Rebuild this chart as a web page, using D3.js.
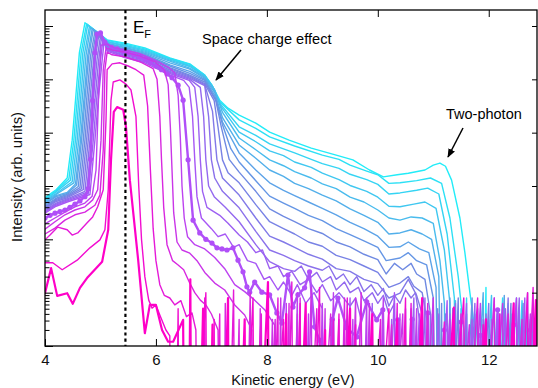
<!DOCTYPE html>
<html><head><meta charset="utf-8">
<script src="https://cdn.jsdelivr.net/npm/d3@7"></script>
<style>html,body{margin:0;padding:0;background:#fff}svg{display:block}</style>
</head><body>
<svg id="chart" width="538" height="388"></svg>
<script>
// Each series: [kinetic energy (eV), log10 intensity]; -8 marks the empty noise floor (below the axis)
const s0=[[4.00,0.99],[4.11,1.46],[4.22,0.94],[4.40,0.99],[4.50,0.79],[4.63,1.09],[4.77,1.29],[5.03,1.58],[5.14,2.18],[5.19,3.49],[5.24,4.39],[5.30,4.48],[5.41,4.43],[5.46,4.11],[5.53,3.11],[5.68,1.61],[5.80,0.24],[5.89,0.77],[6.00,0.77],[6.11,0.30],[6.22,0.08],[6.31,0.08],[6.49,0.49],[6.55,-8],[6.62,1.25],[6.66,-8],[6.85,0.7],[6.88,-8],[7.02,0.4],[7.06,-8],[7.3,0.9],[7.33,-8],[7.6,0.5],[7.64,-8],[8.02,1.2],[8.06,-8],[8.35,0.6],[8.38,-8],[8.7,0.8],[8.74,-8],[9.05,0.3],[9.09,-8],[9.5,0.7],[9.53,-8],[9.9,0.6],[9.94,-8],[10.35,0.5],[10.39,-8],[10.8,0.9],[10.83,-8],[11.37,0.72],[11.41,-8],[11.95,0.5],[11.99,-8],[12.45,0.8],[12.49,-8],[12.85,0.86],[12.9,-8]];
const s1=[[4.00,1.56],[4.14,1.56],[4.31,1.43],[4.58,1.61],[4.81,1.84],[4.99,1.99],[5.08,2.18],[5.14,2.93],[5.19,4.61],[5.23,4.95],[5.35,4.99],[5.46,4.91],[5.55,4.80],[5.64,4.3],[5.69,3.0],[5.74,2.0],[5.80,1.3],[5.87,0.86],[5.93,0.71],[6.0,0.77],[6.07,0.58],[6.18,0.30],[6.25,0.19],[6.3,-8],[6.4,0.7],[6.45,-8],[6.9,1.0],[6.95,-8],[7.05,0.5],[7.08,-8],[7.3,0.6],[7.34,-8],[7.75,0.9],[7.8,-8],[8.3,0.5],[8.34,-8],[8.6,0.8],[8.63,-8],[8.95,1.1],[9.0,-8],[9.3,0.6],[9.33,-8],[9.6,0.4],[9.64,-8],[10.2,0.7],[10.25,-8],[10.5,0.9],[10.53,-8],[10.8,0.5],[10.84,-8],[11.55,0.9],[11.6,-8],[11.9,0.4],[11.93,-8],[12.2,0.6],[12.25,-8],[12.7,1.0],[12.75,-8]];
const s2=[[4.00,1.99],[4.09,2.08],[4.23,2.23],[4.40,2.18],[4.49,2.08],[4.59,2.12],[4.76,2.31],[4.86,2.42],[4.95,2.61],[5.05,2.93],[5.10,4.24],[5.12,5.18],[5.21,5.29],[5.35,5.31],[5.50,5.25],[5.64,5.18],[5.78,5.08],[5.85,4.5],[5.90,3.3],[5.95,2.2],[6.0,1.6],[6.07,1.15],[6.15,0.95],[6.25,0.9],[6.34,0.77],[6.45,0.85],[6.55,0.55],[6.65,0.62],[6.72,0.30],[6.8,-8],[6.88,0.9],[6.93,-8],[7.15,0.6],[7.18,-8],[7.4,1.05],[7.45,-8],[7.9,0.6],[7.95,-8],[8.2,0.9],[8.23,-8],[8.45,1.2],[8.5,-8],[8.9,0.7],[8.95,-8],[9.2,0.5],[9.23,-8],[9.45,0.9],[9.5,-8],[10.05,0.5],[10.1,-8],[10.35,0.8],[10.38,-8],[10.6,0.8],[10.65,-8],[11.2,0.45],[11.25,-8],[11.8,0.9],[11.85,-8],[12.35,0.6],[12.4,-8],[12.8,1.1],[12.88,-8]];
const s3=[[4.00,2.10],[4.18,2.21],[4.36,2.36],[4.54,2.46],[4.72,2.51],[4.90,2.64],[4.99,2.83],[5.05,3.68],[5.08,5.18],[5.12,5.51],[5.21,5.46],[5.44,5.42],[5.71,5.33],[5.95,5.2],[6.02,5.0],[6.07,4.3],[6.10,3.5],[6.14,2.6],[6.2,1.9],[6.3,1.6],[6.40,1.52],[6.50,1.43],[6.60,1.2],[6.70,1.0],[6.80,0.86],[6.9,0.77],[7.0,0.6],[7.12,0.30],[7.2,-8],[7.25,0.8],[7.3,-8],[7.5,0.5],[7.53,-8],[7.7,1.0],[7.75,-8],[8.15,0.5],[8.2,-8],[8.4,0.8],[8.43,-8],[8.6,0.9],[8.65,-8],[9.15,0.6],[9.2,-8],[9.4,0.9],[9.43,-8],[9.7,1.0],[9.75,-8],[10.25,0.4],[10.3,-8],[10.6,0.7],[10.63,-8],[10.9,0.8],[10.95,-8],[11.5,0.6],[11.55,-8],[12.1,0.9],[12.15,-8],[12.6,0.5],[12.65,-8]];
const s4=[[4.00,2.19],[4.18,2.33],[4.36,2.46],[4.54,2.55],[4.72,2.61],[4.86,2.74],[4.95,2.93],[5.01,3.86],[5.05,5.18],[5.10,5.59],[5.21,5.55],[5.44,5.51],[5.71,5.44],[5.98,5.33],[6.15,5.18],[6.22,4.9],[6.26,4.1],[6.29,3.3],[6.32,2.5],[6.38,1.95],[6.47,1.8],[6.61,1.74],[6.74,1.6],[6.88,1.38],[7.06,1.18],[7.24,1.05],[7.42,0.77],[7.60,0.58],[7.73,0.30],[7.8,-8],[7.88,0.7],[7.92,-8],[8.1,0.5],[8.13,-8],[8.25,0.9],[8.3,-8],[8.55,0.6],[8.58,-8],[8.8,1.1],[8.85,-8],[9.05,0.7],[9.08,-8],[9.3,0.5],[9.35,-8],[9.6,0.9],[9.63,-8],[9.85,0.8],[9.9,-8],[10.45,0.6],[10.5,-8],[11.0,0.9],[11.05,-8],[11.65,0.4],[11.7,-8],[12.25,0.8],[12.3,-8],[12.75,0.6],[12.8,-8]];
const s5=[[4.00,2.29],[4.18,2.40],[4.36,2.51],[4.54,2.61],[4.72,2.68],[4.85,2.81],[4.92,3.30],[4.97,4.80],[5.01,5.64],[5.10,5.66],[5.26,5.59],[5.44,5.55],[5.71,5.48],[5.98,5.36],[6.22,5.23],[6.34,5.12],[6.40,4.7],[6.44,3.9],[6.47,3.0],[6.51,2.4],[6.57,2.05],[6.70,1.9],[6.88,1.82],[7.06,1.66],[7.24,1.45],[7.42,1.15],[7.60,1.02],[7.78,0.86],[7.96,0.68],[8.14,0.39],[8.2,-8],[8.35,0.8],[8.4,-8],[8.55,1.0],[8.58,-8],[8.75,0.6],[8.8,-8],[9.0,0.8],[9.03,-8],[9.2,1.0],[9.25,-8],[9.55,0.5],[9.6,-8],[9.8,0.9],[9.83,-8],[10.1,0.9],[10.15,-8],[10.4,0.6],[10.43,-8],[10.7,0.7],[10.75,-8],[11.3,0.5],[11.35,-8],[11.85,0.8],[11.9,-8],[12.5,0.9],[12.55,-8]];
const s6=[[4.00,2.40],[4.09,2.45],[4.18,2.49],[4.27,2.52],[4.36,2.55],[4.45,2.6],[4.54,2.66],[4.63,2.72],[4.72,2.8],[4.78,2.95],[4.82,3.5],[4.86,4.6],[4.90,5.5],[4.94,5.85],[5.0,5.87],[5.08,5.70],[5.2,5.6],[5.3,5.57],[5.4,5.53],[5.5,5.5],[5.6,5.46],[5.7,5.42],[5.8,5.37],[5.9,5.31],[6.0,5.25],[6.1,5.18],[6.2,5.10],[6.29,5.03],[6.40,4.89],[6.49,4.61],[6.58,3.49],[6.67,2.36],[6.79,2.12],[6.9,2.0],[7.01,1.93],[7.10,1.84],[7.19,1.82],[7.28,1.80],[7.39,1.84],[7.48,1.61],[7.57,1.39],[7.64,1.11],[7.69,1.01],[7.78,1.20],[7.91,1.01],[8.05,0.96],[8.18,0.62],[8.27,0.43],[8.38,1.33],[8.47,0.73],[8.56,0.96],[8.68,1.09],[8.77,1.39],[8.86,0.36],[8.95,0.11],[9.05,-8],[9.18,0.5],[9.28,0.9],[9.44,0.34],[9.62,0.17],[9.80,0.83],[9.98,0.49],[10.09,0.68],[10.2,-8],[10.36,0.49],[10.5,-8],[10.62,0.5],[10.75,-8],[10.9,0.62],[11.0,-8],[11.2,0.3],[11.35,-8],[11.5,0.45],[11.7,-8],[11.85,0.2],[12.0,-8],[12.16,0.68],[12.3,-8],[12.45,0.4],[12.6,-8],[12.75,0.3],[12.87,-8]];
const s7=[[4.00,2.49],[4.20,2.62],[4.40,2.70],[4.81,2.84],[4.90,3.86],[4.96,4.61],[5.03,5.36],[5.07,5.74],[5.12,5.53],[5.44,5.41],[5.80,5.31],[6.25,5.085],[6.5,4.98],[6.6,4.85],[6.66,4.3],[6.70,3.49],[6.74,2.8],[6.82,2.4],[7.0,2.2],[7.12,2.05],[7.25,2.1],[7.4,1.85],[7.5,1.9],[7.65,1.6],[7.8,1.55],[7.95,1.25],[8.05,1.3],[8.2,1.05],[8.3,1.2],[8.45,0.95],[8.55,1.15],[8.7,0.8],[8.85,1.0],[9.0,0.7],[9.1,-8],[9.2,0.7],[9.28,-8],[9.5,0.9],[9.56,-8],[9.9,0.5],[9.95,-8],[10.3,1.0],[10.35,-8],[10.75,0.6],[10.8,-8],[11.25,0.85],[11.3,-8],[11.7,0.5],[11.75,-8],[12.3,0.7],[12.35,-8],[12.65,0.9],[12.7,-8]];
const s8=[[4.00,2.51],[4.20,2.64],[4.40,2.72],[4.78,2.86],[4.87,3.86],[4.93,4.61],[5.0,5.37],[5.05,5.77],[5.12,5.55],[5.44,5.43],[5.80,5.33],[6.25,5.11],[6.6,4.98],[6.7,4.85],[6.76,4.3],[6.80,3.49],[6.84,2.9],[6.92,2.6],[7.15,2.45],[7.3,2.3],[7.5,2.08],[7.65,1.95],[7.8,1.75],[7.92,1.8],[8.05,1.45],[8.2,1.5],[8.3,1.3],[8.45,1.4],[8.6,1.15],[8.75,1.25],[8.9,1.0],[9.0,1.15],[9.15,0.85],[9.3,1.0],[9.5,0.75],[9.6,0.9],[9.7,0.5],[9.8,-8],[9.9,0.8],[9.95,-8],[10.25,0.5],[10.3,-8],[10.65,0.9],[10.7,-8],[11.1,0.6],[11.15,-8],[11.6,0.8],[11.65,-8],[12.05,0.5],[12.1,-8],[12.55,0.9],[12.6,-8],[12.85,0.6],[12.9,-8]];
const s9=[[4.00,2.53],[4.20,2.66],[4.40,2.74],[4.75,2.88],[4.84,3.86],[4.90,4.61],[4.97,5.38],[5.02,5.79],[5.12,5.56],[5.44,5.45],[5.80,5.35],[6.25,5.13],[6.61,5.0],[6.8,4.85],[6.86,4.3],[6.90,3.49],[6.95,3.0],[7.05,2.8],[7.25,2.6],[7.5,2.33],[7.8,1.9],[8.05,1.58],[8.3,1.45],[8.5,1.4],[8.62,1.5],[8.75,1.25],[8.9,1.38],[9.0,1.2],[9.15,1.3],[9.25,1.05],[9.4,1.2],[9.5,1.0],[9.65,1.1],[9.75,0.85],[9.9,1.0],[10.0,0.8],[10.1,0.95],[10.2,0.6],[10.3,0.8],[10.4,-8],[10.5,0.7],[10.55,-8],[10.85,0.9],[10.9,-8],[11.3,0.6],[11.35,-8],[11.75,0.8],[11.8,-8],[12.2,0.6],[12.25,-8],[12.7,1.0],[12.75,-8]];
const s10=[[4.00,2.55],[4.20,2.68],[4.40,2.76],[4.72,2.90],[4.81,3.86],[4.87,4.61],[4.94,5.39],[5.0,5.81],[5.12,5.58],[5.44,5.47],[5.80,5.37],[6.25,5.15],[6.61,5.02],[6.88,4.88],[6.95,4.3],[7.0,3.49],[7.06,3.15],[7.2,2.9],[7.5,2.59],[7.8,2.15],[8.05,1.80],[8.3,1.7],[8.5,1.6],[8.75,1.5],[9.0,1.42],[9.12,1.5],[9.25,1.25],[9.38,1.35],[9.5,1.15],[9.62,1.3],[9.75,1.02],[9.88,1.15],[10.0,0.95],[10.1,1.08],[10.2,0.75],[10.3,0.95],[10.4,0.8],[10.5,1.05],[10.6,0.9],[10.68,1.0],[10.75,0.5],[10.8,-8],[10.95,0.6],[11.0,-8],[11.4,0.8],[11.45,-8],[11.9,0.5],[11.95,-8],[12.35,0.9],[12.4,-8],[12.8,0.6],[12.85,-8]];
const s11=[[4.00,2.57],[4.20,2.71],[4.40,2.78],[4.69,2.93],[4.78,3.86],[4.84,4.61],[4.91,5.40],[4.97,5.84],[5.12,5.59],[5.44,5.49],[5.80,5.39],[6.25,5.175],[6.61,5.04],[6.88,4.9],[7.02,4.4],[7.1,3.49],[7.2,3.15],[7.5,2.83],[7.8,2.4],[8.05,2.06],[8.3,1.95],[8.5,1.85],[8.75,1.72],[9.0,1.63],[9.25,1.45],[9.5,1.40],[9.75,1.25],[10.0,1.17],[10.2,0.9],[10.4,0.99],[10.55,1.25],[10.7,0.95],[10.8,0.6],[10.88,-8],[11.0,0.9],[11.05,-8],[11.5,0.5],[11.55,-8],[12.0,0.8],[12.05,-8],[12.45,0.6],[12.5,-8],[12.88,0.9]];
const s12=[[4.00,2.59],[4.20,2.73],[4.40,2.80],[4.66,2.95],[4.75,3.86],[4.81,4.61],[4.88,5.41],[4.95,5.86],[5.12,5.61],[5.44,5.51],[5.80,5.41],[6.25,5.2],[6.61,5.06],[6.88,4.92],[7.05,4.6],[7.12,4.1],[7.2,3.49],[7.3,3.25],[7.5,3.06],[7.8,2.65],[8.05,2.33],[8.3,2.2],[8.5,2.1],[8.75,1.95],[9.0,1.87],[9.25,1.7],[9.5,1.62],[9.75,1.5],[10.0,1.38],[10.2,1.1],[10.4,1.18],[10.55,1.3],[10.65,1.12],[10.8,1.0],[10.9,0.4],[10.98,-8],[11.08,0.7],[11.13,-8],[11.45,0.9],[11.5,-8],[11.95,0.6],[12.0,-8],[12.4,0.8],[12.45,-8],[12.75,0.5],[12.8,-8]];
const s13=[[4.00,2.61],[4.20,2.75],[4.40,2.82],[4.63,2.97],[4.72,3.86],[4.78,4.61],[4.85,5.42],[4.92,5.88],[5.12,5.62],[5.44,5.53],[5.80,5.43],[6.25,5.22],[6.61,5.08],[6.88,4.95],[7.08,4.6],[7.18,4.1],[7.32,3.5],[7.5,3.26],[7.8,2.9],[8.05,2.57],[8.3,2.43],[8.5,2.33],[8.75,2.2],[9.0,2.11],[9.25,1.95],[9.5,1.86],[9.75,1.72],[10.0,1.62],[10.15,1.35],[10.3,1.55],[10.45,1.43],[10.6,1.55],[10.7,1.35],[10.85,1.25],[10.95,0.6],[11.05,-8],[11.15,0.8],[11.2,-8],[11.6,0.6],[11.65,-8],[12.1,0.9],[12.15,-8],[12.55,0.7],[12.6,-8]];
const s14=[[4.00,2.63],[4.20,2.77],[4.40,2.84],[4.60,2.99],[4.69,3.86],[4.75,4.61],[4.82,5.43],[4.90,5.90],[5.04,5.77],[5.12,5.64],[5.44,5.55],[5.80,5.45],[6.25,5.25],[6.61,5.11],[6.88,4.98],[7.08,4.62],[7.2,4.15],[7.35,3.7],[7.5,3.45],[7.8,3.1],[8.05,2.81],[8.3,2.68],[8.5,2.58],[8.75,2.45],[9.0,2.35],[9.25,2.2],[9.5,2.09],[9.75,1.97],[10.0,1.85],[10.15,1.6],[10.4,1.65],[10.55,1.75],[10.7,1.6],[10.88,1.52],[11.0,0.9],[11.12,-8],[11.22,0.6],[11.27,-8],[11.7,0.9],[11.75,-8],[12.15,0.5],[12.2,-8],[12.62,0.8],[12.67,-8]];
const s15=[[4.00,2.66],[4.20,2.80],[4.40,2.86],[4.57,3.02],[4.66,3.86],[4.72,4.61],[4.79,5.44],[4.87,5.93],[5.02,5.80],[5.12,5.65],[5.44,5.57],[5.80,5.47],[6.25,5.27],[6.61,5.15],[6.88,5.0],[7.06,4.7],[7.2,4.2],[7.5,3.62],[7.8,3.3],[8.05,3.06],[8.3,2.92],[8.5,2.82],[8.75,2.7],[9.0,2.58],[9.25,2.46],[9.5,2.32],[9.75,2.2],[10.0,2.06],[10.2,1.85],[10.4,1.86],[10.55,1.95],[10.75,1.82],[10.92,1.75],[11.05,1.1],[11.18,-8],[11.3,0.9],[11.35,-8],[11.8,0.7],[11.85,-8],[12.28,0.95],[12.33,-8],[12.7,0.6],[12.75,-8]];
const s16=[[4.00,2.68],[4.20,2.82],[4.40,2.88],[4.55,3.04],[4.64,3.86],[4.70,4.61],[4.77,5.45],[4.85,5.95],[5.0,5.83],[5.12,5.67],[5.44,5.59],[5.80,5.49],[6.25,5.31],[6.61,5.19],[6.88,5.02],[7.06,4.75],[7.2,4.28],[7.5,3.77],[7.8,3.52],[8.05,3.30],[8.3,3.18],[8.5,3.05],[8.75,2.95],[9.0,2.83],[9.25,2.72],[9.5,2.57],[9.75,2.45],[10.0,2.32],[10.2,2.1],[10.4,2.12],[10.6,2.18],[10.8,2.1],[10.97,2.0],[11.1,1.3],[11.24,-8],[11.35,0.7],[11.4,-8],[11.9,1.0],[11.95,-8],[12.4,0.6],[12.45,-8],[12.8,0.8],[12.85,-8]];
const s17=[[4.00,2.70],[4.20,2.84],[4.52,3.06],[4.61,3.86],[4.67,4.61],[4.74,5.46],[4.82,5.97],[4.97,5.85],[5.12,5.68],[5.44,5.60],[5.80,5.51],[6.25,5.34],[6.61,5.21],[6.88,5.04],[7.06,4.8],[7.2,4.38],[7.5,3.90],[7.8,3.68],[8.05,3.49],[8.3,3.38],[8.5,3.27],[8.8,3.15],[9.0,3.04],[9.25,2.95],[9.5,2.79],[9.75,2.7],[10.0,2.55],[10.2,2.4],[10.4,2.36],[10.6,2.42],[10.8,2.4],[11.0,2.3],[11.12,1.6],[11.2,0.8],[11.28,-8],[11.4,0.85],[11.45,-8],[11.95,0.6],[12.0,-8],[12.5,0.9],[12.55,-8],[12.85,0.7]];
const s18=[[4.00,2.72],[4.20,2.86],[4.49,3.08],[4.58,3.86],[4.64,4.61],[4.71,5.47],[4.80,5.99],[4.95,5.87],[5.12,5.70],[5.44,5.62],[5.80,5.53],[6.25,5.36],[6.61,5.24],[6.88,5.06],[7.03,4.85],[7.18,4.48],[7.5,4.01],[7.8,3.83],[8.05,3.66],[8.3,3.57],[8.5,3.45],[8.8,3.35],[9.0,3.24],[9.3,3.12],[9.5,3.01],[9.8,2.9],[10.0,2.79],[10.2,2.62],[10.4,2.61],[10.65,2.66],[10.85,2.7],[11.05,2.58],[11.2,1.8],[11.3,0.8],[11.36,-8],[11.5,0.7],[11.55,-8],[12.05,0.95],[12.1,-8],[12.55,0.6],[12.6,-8]];
const s19=[[4.00,2.74],[4.20,2.89],[4.46,3.11],[4.55,3.86],[4.61,4.61],[4.68,5.48],[4.77,6.02],[4.92,5.90],[5.12,5.71],[5.44,5.64],[5.80,5.55],[6.25,5.38],[6.61,5.26],[6.88,5.07],[7.02,4.87],[7.16,4.54],[7.5,4.11],[7.8,3.95],[8.05,3.79],[8.5,3.62],[8.8,3.5],[9.0,3.42],[9.3,3.33],[9.5,3.22],[9.8,3.12],[10.0,3.03],[10.2,2.85],[10.4,2.87],[10.7,2.92],[10.9,2.96],[11.1,2.85],[11.25,2.1],[11.38,0.9],[11.45,-8],[11.6,0.9],[11.65,-8],[12.15,0.6],[12.2,-8],[12.6,0.85],[12.65,-8]];
const s20=[[4.00,2.76],[4.20,2.91],[4.43,3.13],[4.52,3.86],[4.58,4.61],[4.65,5.49],[4.75,6.04],[4.90,5.92],[5.12,5.73],[5.44,5.66],[5.80,5.57],[6.25,5.39],[6.61,5.28],[6.88,5.08],[7.01,4.88],[7.15,4.58],[7.5,4.24],[7.8,4.08],[8.05,3.92],[8.5,3.75],[9.0,3.58],[9.3,3.5],[9.5,3.39],[9.8,3.28],[10.0,3.21],[10.2,3.05],[10.4,3.06],[10.7,3.1],[10.95,3.15],[11.15,3.05],[11.3,2.4],[11.45,1.3],[11.55,0.3],[11.6,-8],[11.75,0.6],[11.8,-8],[12.25,0.9],[12.3,-8],[12.7,0.55],[12.75,-8]];
const s21=[[4.00,2.78],[4.20,2.93],[4.40,3.15],[4.49,3.86],[4.55,4.61],[4.62,5.50],[4.72,6.06],[4.87,5.94],[5.12,5.74],[5.44,5.68],[5.80,5.59],[6.25,5.40],[6.61,5.29],[6.88,5.08],[7.01,4.89],[7.15,4.61],[7.3,4.46],[7.5,4.33],[7.8,4.18],[8.05,4.01],[8.4,3.86],[8.8,3.71],[9.25,3.58],[9.55,3.49],[9.85,3.30],[10.1,3.17],[10.35,3.21],[10.55,3.24],[10.85,3.30],[11.0,3.39],[11.12,3.43],[11.22,3.37],[11.33,3.11],[11.48,2.40],[11.57,1.75],[11.66,1.0],[11.75,0.3],[11.8,-8],[11.95,1.1],[12.0,-8],[12.35,0.8],[12.4,-8],[12.8,0.9],[12.85,-8]];

const series=[s0,s1,s2,s3,s4,s5,s6,s7,s8,s9,s10,s11,s12,s13,s14,s15,s16,s17,s18,s19,s20,s21];
const boldIndex=0, markedIndex=6;
const xTickValues=[4,6,8,10,12];
const majorExponents=[0,1,2,3,4,5,6];
const fermiEnergy=5.45;
const xDomain=[4,12.87];
const logTop=6.3;

const svg=d3.select('#chart');
const x=d3.scaleLinear().domain(xDomain).range([45,537]);
const y=d3.scaleLog().domain([1,Math.pow(10,logTop)]).range([346,10]);
const color=d3.scaleLinear().domain([0,6,13,21])
  .range(["#ff00c8","#b04ff8","#6f8ae2","#22ecf8"]).interpolate(d3.interpolateRgb);

const defs=svg.append('defs');
defs.append('clipPath').attr('id','clip')
  .append('rect').attr('x',45).attr('y',10).attr('width',492).attr('height',336);
defs.append('marker').attr('id','arr').attr('viewBox','0 0 10 10').attr('refX',9).attr('refY',5)
  .attr('markerWidth',9).attr('markerHeight',9).attr('markerUnits','userSpaceOnUse').attr('orient','auto')
  .append('path').attr('d','M0,1 L10,5 L0,9 Z').attr('fill','#000');

const line=d3.line().x(d=>x(d[0])).y(d=>y(Math.pow(10,d[1])));
const plot=svg.append('g').attr('clip-path','url(#clip)');

for(let i=series.length-1;i>=0;i--){
  const w=(i===boldIndex)?2.2:(i===markedIndex?2.4:1.4);
  plot.append('path').datum(series[i]).attr('d',line)
    .attr('fill','none').attr('stroke',color(i)).attr('stroke-width',w)
    .attr('stroke-linejoin','round').attr('stroke-linecap','round');
  if(i===markedIndex){
    plot.append('g').selectAll('circle').data(series[i].filter(d=>d[1]>-1)).join('circle')
      .attr('cx',d=>x(d[0])).attr('cy',d=>y(Math.pow(10,d[1]))).attr('r',2.6)
      .attr('fill',color(i));
  }
}

// Fermi level
svg.append('line').attr('x1',x(fermiEnergy)).attr('x2',x(fermiEnergy)).attr('y1',10).attr('y2',346)
  .attr('stroke','#000').attr('stroke-width',2.2).attr('stroke-dasharray','3.2,3');

// axes
const font='"Liberation Sans", Arial, Helvetica, sans-serif';
const axB=svg.append('g').attr('transform','translate(0,346)')
  .call(d3.axisBottom(x).tickValues(xTickValues).tickSizeInner(-7).tickSizeOuter(0).tickPadding(8).tickFormat(d3.format('d')));
const axT=svg.append('g').attr('transform','translate(0,10)')
  .call(d3.axisTop(x).tickValues(xTickValues.slice(1)).tickSizeInner(-7).tickSizeOuter(0).tickFormat(''));
const majors=majorExponents.map(e=>Math.pow(10,e));
const minors=[];
majorExponents.forEach(e=>{for(let k=2;k<=9;k++){const v=k*Math.pow(10,e); if(Math.log10(v)<=logTop) minors.push(v);}});
const axL1=svg.append('g').attr('transform','translate(45,0)')
  .call(d3.axisLeft(y).tickValues(majors).tickSizeInner(-8).tickSizeOuter(0).tickFormat(''));
const axL2=svg.append('g').attr('transform','translate(45,0)')
  .call(d3.axisLeft(y).tickValues(minors).tickSizeInner(-4.5).tickSizeOuter(0).tickFormat(''));
const axR=svg.append('g').attr('transform','translate(537,0)')
  .call(d3.axisRight(y).tickValues(majors.slice(1)).tickSizeInner(-5).tickSizeOuter(0).tickFormat(''));
[axB,axT,axL1,axL2,axR].forEach(g=>{
  g.select('.domain').remove();
  g.selectAll('.tick line').attr('stroke','#000').attr('stroke-width',1);
  g.selectAll('text').attr('font-family',font).attr('font-size',15).attr('fill','#111');
});
svg.append('rect').attr('x',45).attr('y',10).attr('width',492).attr('height',336)
  .attr('fill','none').attr('stroke','#000').attr('stroke-width',1.3);

// labels
svg.append('text').attr('x',293).attr('y',385).attr('text-anchor','middle')
  .attr('font-family',font).attr('font-size',14.5).attr('fill','#111').text('Kinetic energy (eV)');
svg.append('text').attr('transform','translate(22,177) rotate(-90)').attr('text-anchor','middle')
  .attr('font-family',font).attr('font-size',14.8).attr('fill','#111').text('Intensity (arb. units)');
const ef=svg.append('text').attr('x',133).attr('y',33).attr('font-family',font).attr('font-size',17).attr('fill','#000');
ef.append('tspan').text('E');
ef.append('tspan').attr('font-size',11).attr('dy',5).text('F');

svg.append('text').attr('x',202).attr('y',44).attr('font-family',font).attr('font-size',14.6).attr('fill','#000').text('Space charge effect');
svg.append('line').attr('x1',241).attr('y1',50).attr('x2',216).attr('y2',80)
  .attr('stroke','#000').attr('stroke-width',1.5).attr('marker-end','url(#arr)');
svg.append('text').attr('x',446).attr('y',119).attr('font-family',font).attr('font-size',14.5).attr('fill','#000').text('Two-photon');
svg.append('line').attr('x1',463).attr('y1',128).attr('x2',448).attr('y2',157)
  .attr('stroke','#000').attr('stroke-width',1.5).attr('marker-end','url(#arr)');
</script>
</body></html>
